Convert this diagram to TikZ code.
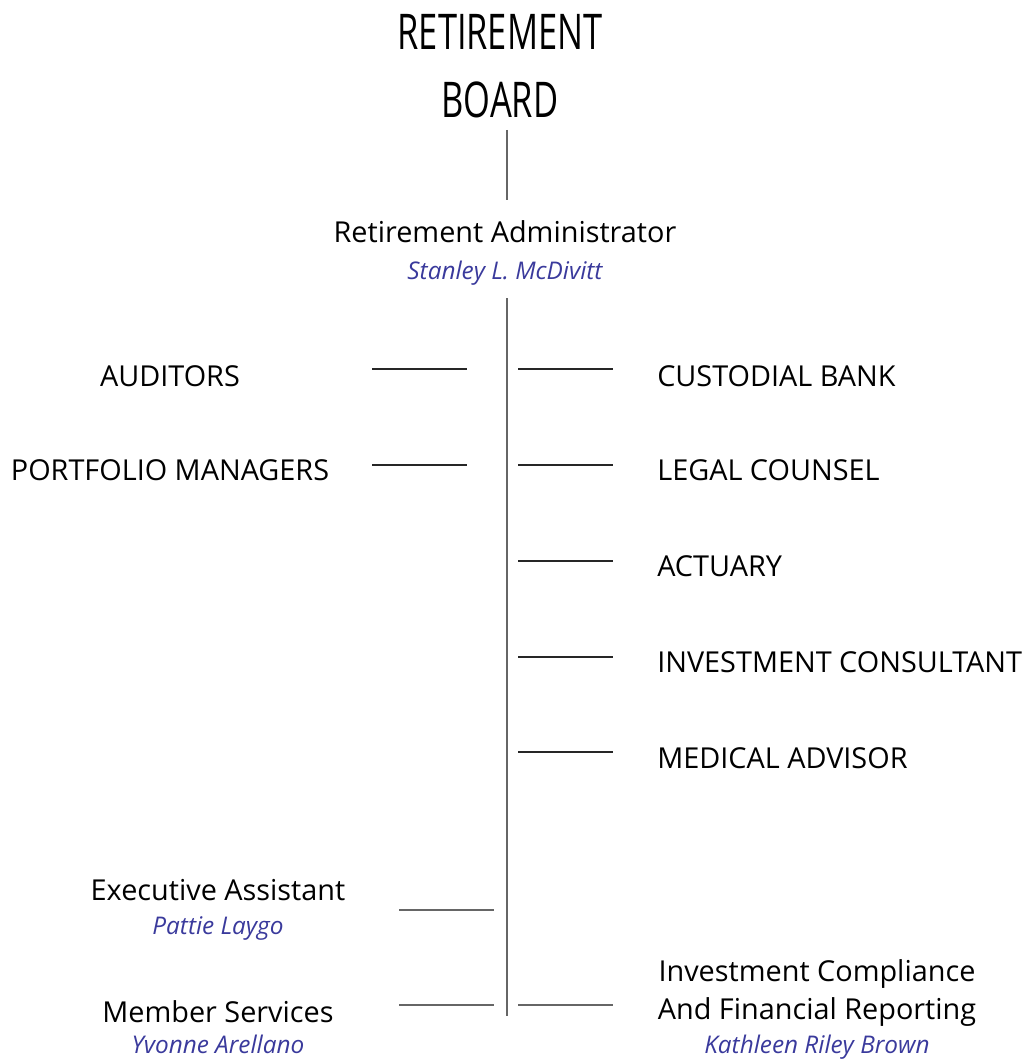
\documentclass[tikz,border=0pt]{standalone}
\usepackage{fontspec}
\setmainfont{Open Sans}
\newfontfamily\titlefont[FakeStretch=0.70]{Open Sans}
\usepackage{xcolor}
\usetikzlibrary{positioning}
\definecolor{namecol}{RGB}{58,58,156}
\tikzstyle{title} = [font=\titlefont\fontsize{35}{42}\selectfont, align=center, inner sep=0pt]
\tikzstyle{post} = [font=\fontsize{20.5}{27}\selectfont, align=center, inner sep=0pt]
\tikzstyle{who} = [font=\fontsize{17.3}{20}\selectfont\itshape, text=namecol, inner sep=0pt]
\tikzstyle{spine} = [gray!80!black, line width=0.9pt]
\tikzstyle{tick} = [black!85, line width=0.8pt]

\begin{document}
\begin{tikzpicture}[x=0.025cm, y=-0.025cm]
    \useasboundingbox (0,0) rectangle (1026,1064);

    % Board
    \node[title] (board) at (500,66) {RETIREMENT\\[6pt]BOARD};
    \coordinate (boardfoot) at (507,130);

    % Administrator
    \node[post] (admin) at (505,232) {Retirement Administrator};
    \node[who, below=12pt of admin] (adminname) {Stanley L. McDivitt};
    \draw[spine] (boardfoot) -- (boardfoot |- 0,200);

    % Main line
    \coordinate (top) at (507,298);
    \coordinate (bottom) at (507,1016);
    \draw[spine] (top) -- (bottom);

    % Left side advisors
    \node[post] (auditors) at (170,376) {AUDITORS};
    \node[post] (portfolio) at (170,470) {PORTFOLIO MANAGERS};
    \coordinate (la1) at (372,369);
    \coordinate (la2) at (372,465);
    \draw[tick] (la1) -- ++(95,0);
    \draw[tick] (la2) -- ++(95,0);

    % Right side advisors
    \node[post, anchor=west] (bank) at (657,376) {CUSTODIAL BANK};
    \node[post, anchor=west] (legal) at (657,470) {LEGAL COUNSEL};
    \node[post, anchor=west] (actuary) at (657,566) {ACTUARY};
    \node[post, anchor=west] (consult) at (657,662) {INVESTMENT CONSULTANT};
    \node[post, anchor=west] (medical) at (657,758) {MEDICAL ADVISOR};
    \foreach \y in {369,465,561,657,752}
        \draw[tick] (518,\y) -- ++(95,0);

    % Staff
    \node[post] (exec) at (218,890) {Executive Assistant};
    \node[who, below=11pt of exec] (execname) {Pattie Laygo};
    \node[post] (member) at (218,1012) {Member Services};
    \node[who, below=8pt of member] (membername) {Yvonne Arellano};
    \node[post] (invest) at (817,993) {Investment Compliance\\And Financial Reporting};
    \node[who, below=6pt of invest] (investname) {Kathleen Riley Brown};
    \draw[spine] (399,910) -- ++(95,0);
    \draw[spine] (399,1005) -- ++(95,0);
    \draw[spine] (518,1005) -- ++(95,0);
\end{tikzpicture}
\end{document}
